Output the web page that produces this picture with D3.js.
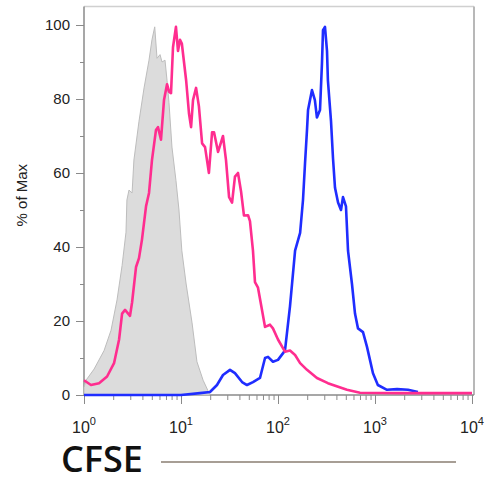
<!DOCTYPE html>
<html>
<head>
<meta charset="utf-8">
<script src="https://cdn.jsdelivr.net/npm/d3@7"></script>
<style>
  body { margin: 0; background: #fff; }
  svg { display: block; }
</style>
</head>
<body>
<svg width="488" height="480"></svg>
<script>
// CFSE intensity (x) and % of Max (y) for each histogram
const grayX = [1.00, 1.05, 1.27, 1.61, 1.90, 2.19, 2.47, 2.71, 2.77, 2.91, 3.13, 3.27, 3.69, 4.16, 4.68, 5.02, 5.36, 5.66, 6.08, 6.37, 6.84, 7.18, 7.52, 8.07, 8.87, 9.53, 10.2, 11.3, 13.0, 14.6, 16.9, 19.9];
const grayY = [2, 4, 7, 12, 17.5, 25.7, 35, 44, 52.7, 55.4, 54.6, 63.5, 74, 83, 90.5, 96, 99.5, 91, 92, 90, 90.5, 85, 79, 67, 58, 50, 39, 30, 19.5, 9, 4, 0];

const pinkX = [1.00, 1.18, 1.43, 1.73, 2.04, 2.30, 2.47, 2.65, 2.98, 3.13, 3.44, 3.69, 3.96, 4.36, 4.68, 5.02, 5.52, 5.79, 6.22, 6.68, 7.18, 7.52, 7.89, 8.27, 8.87, 9.31, 9.77, 10.2, 11.3, 12.1, 12.7, 13.3, 14.3, 15.3, 16.5, 17.7, 19.4, 20.9, 21.9, 24.1, 27.1, 29.1, 31.3, 33.6, 36.0, 38.7, 41.6, 44.6, 49.1, 51.4, 55.2, 57.9, 62.2, 68.4, 73.5, 82.7, 88.7, 100, 118, 133, 150, 169, 199, 252, 327, 369, 514, 700, 1810, 4680, 10000];
const pinkY = [4, 2.7, 3.2, 5, 8.6, 15, 22, 23, 21.4, 25, 34.6, 37, 42, 51, 54.6, 63.5, 71.6, 72.4, 69, 79.7, 84, 82, 81.6, 94, 99.5, 93, 96, 95, 85, 76, 72.4, 79.7, 83, 78, 68, 67, 60, 71, 71, 65.7, 70, 63.5, 53.5, 52, 59, 60, 55, 48.5, 48.6, 47, 39, 30.5, 29, 23, 18.4, 19, 18, 15, 11.7, 12, 10.8, 8.6, 6.8, 4.6, 3.2, 2.7, 1.4, 0.6, 0.5, 0.5, 0.5];

const blueX = [1, 10, 15.7, 19.9, 23.5, 27.1, 32.0, 36.0, 42.6, 47.9, 55.2, 65.2, 73.5, 78.9, 88.7, 100, 118, 133, 150, 169, 181, 190, 199, 204, 224, 240, 252, 271, 284, 291, 305, 320, 327, 352, 369, 387, 416, 446, 468, 502, 527, 579, 622, 668, 752, 827, 887, 953, 1070, 1330, 1690, 2190, 2770];
const blueY = [0, 0, 0.5, 0.8, 2.7, 5.4, 6.8, 5.9, 3.5, 2.7, 3.5, 4.6, 10, 10.3, 9, 9.5, 12, 24, 39, 43.8, 52.7, 62.7, 71.6, 77, 82.4, 79.7, 75, 77, 89.7, 98.6, 99.5, 93, 85, 74, 64, 56, 52, 50, 53.5, 51, 39, 30, 22, 18, 17, 13, 9.5, 5.9, 2.7, 1.4, 1.6, 1.4, 0.8];

const yMajor = [0, 20, 40, 60, 80, 100];
const yMinor = [10, 30, 50, 70, 90];
const xMajor = [1, 10, 100, 1000, 10000];
const xExp = ['0', '1', '2', '3', '4'];

const svg = d3.select('svg');
const font = 'Liberation Sans, Arial, sans-serif';

const x = d3.scaleLog().domain([1, 10000]).range([84, 472]);
const y = d3.scaleLinear().domain([0, 100]).range([395, 25]);

const zip = (xs, ys) => xs.map((v, i) => ({ x: v, y: ys[i] }));

// frame
svg.append('line').attr('x1', x(1)).attr('x2', x(10000) + 2).attr('y1', y(105)).attr('y2', y(105))
  .attr('stroke', '#d0d0d0').attr('stroke-width', 1.5);
svg.append('line').attr('x1', x(10000) + 2).attr('x2', x(10000) + 2).attr('y1', y(105)).attr('y2', y(0))
  .attr('stroke', '#b8b8b8').attr('stroke-width', 2);

// y axis
const yAxis = svg.append('g').attr('transform', `translate(${x(1)},0)`);
yAxis.call(d3.axisLeft(y).tickValues(yMajor).tickSize(8).tickPadding(6));
yAxis.append('g').call(d3.axisLeft(y).tickValues(yMinor).tickSize(4).tickFormat(''))
  .select('.domain').remove();
yAxis.selectAll('.domain').attr('stroke', '#8a8a8a').attr('stroke-width', 1.5).attr('d', `M0,${y(105)}V${y(0)}`);
yAxis.selectAll('.tick line').attr('stroke', '#8a8a8a');
yAxis.selectAll('.tick text').attr('font-family', font).attr('font-size', 15).attr('fill', '#222');

// x axis
const xMinor = [];
xMajor.slice(0, -1).forEach(d => { for (let k = 2; k < 10; k++) xMinor.push(d * k); });
const xAxis = svg.append('g').attr('transform', `translate(0,${y(0)})`);
xAxis.call(d3.axisBottom(x).tickValues(xMajor).tickSize(9).tickFormat(''));
xAxis.append('g').call(d3.axisBottom(x).tickValues(xMinor).tickSize(5).tickFormat(''))
  .select('.domain').remove();
xAxis.selectAll('.domain').attr('stroke', '#8a8a8a').attr('stroke-width', 1.5).attr('d', `M${x(1)},0H${x(10000) + 2}`);
xAxis.selectAll('.tick line').attr('stroke', '#8a8a8a');

const xl = svg.append('g').selectAll('text').data(xMajor).enter().append('text')
  .attr('x', d => x(d))
  .attr('y', 433)
  .attr('text-anchor', 'middle')
  .attr('font-family', font)
  .attr('font-size', 16)
  .attr('fill', '#222');
xl.append('tspan').text('10');
xl.append('tspan').attr('dy', -8).attr('font-size', 11).text((d, i) => xExp[i]);

// gray filled histogram
const area = d3.area().x(d => x(d.x)).y0(y(0)).y1(d => y(d.y));
svg.append('path').datum(zip(grayX, grayY))
  .attr('d', area)
  .attr('fill', '#dcdcdc')
  .attr('stroke', '#bdbdbd')
  .attr('stroke-width', 1);

const line = d3.line().x(d => x(d.x)).y(d => y(d.y));

svg.append('path').datum(zip(blueX, blueY))
  .attr('d', line).attr('fill', 'none')
  .attr('stroke', '#1f2dff').attr('stroke-width', 2.6).attr('stroke-linejoin', 'round');

svg.append('path').datum(zip(pinkX, pinkY))
  .attr('d', line).attr('fill', 'none')
  .attr('stroke', '#ff2d8f').attr('stroke-width', 2.6).attr('stroke-linejoin', 'round');

// y label
svg.append('text')
  .attr('transform', `translate(27,${y(54)}) rotate(-90)`)
  .attr('text-anchor', 'middle')
  .attr('font-family', font)
  .attr('font-size', 15)
  .attr('fill', '#222')
  .text('% of Max');

// CFSE label and bar
svg.append('text')
  .attr('x', 61).attr('y', 472)
  .attr('font-family', 'Open Sans, Noto Sans, sans-serif')
  .attr('font-size', 36)
  .attr('font-weight', 600)
  .attr('fill', '#111')
  .text('CFSE');
svg.append('line').attr('x1', 161).attr('x2', 456).attr('y1', 462).attr('y2', 462)
  .attr('stroke', '#a79e95').attr('stroke-width', 2);
</script>
</body>
</html>
